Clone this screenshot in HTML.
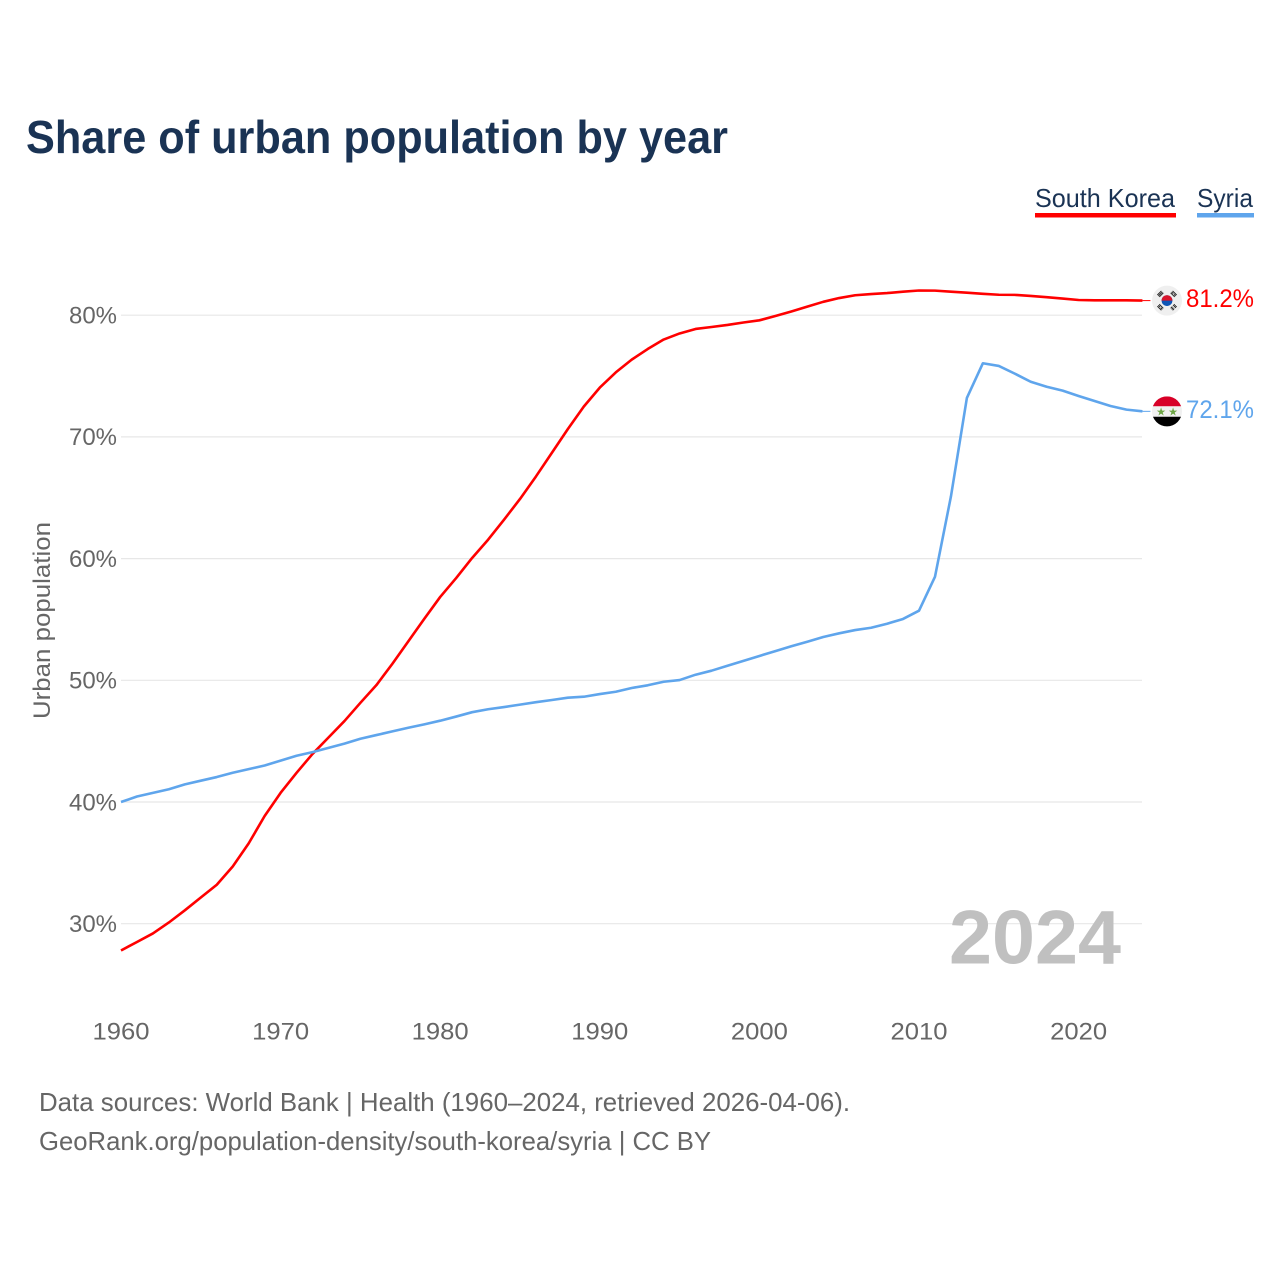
<!DOCTYPE html>
<html lang="en">
<head>
<meta charset="utf-8">
<title>Share of urban population by year</title>
<style>
html,body{margin:0;padding:0;background:#fff;width:1280px;height:1280px;overflow:hidden}
svg{display:block}
text{font-family:"Liberation Sans",sans-serif}
</style>
</head>
<body>
<svg id="chart" xmlns="http://www.w3.org/2000/svg" width="1280" height="1280" viewBox="0 0 1280 1280">
  <defs>
    <clipPath id="flag-clip"><circle cx="0" cy="0" r="15"/></clipPath>
  </defs>
  <rect width="1280" height="1280" fill="#fff"/>
  <text x="26" y="153" font-size="46" font-weight="700" fill="#1a3354" textLength="702" lengthAdjust="spacingAndGlyphs">Share of urban population by year</text>

  <g id="legend">
    <g>
      <text x="1035" y="207" font-size="26" fill="#1a3354" textLength="140" lengthAdjust="spacingAndGlyphs">South Korea</text>
      <rect x="1035" y="213" width="141" height="4.5" fill="#ff0000"/>
    </g>
    <g>
      <text x="1197" y="207" font-size="26" fill="#1a3354" textLength="56" lengthAdjust="spacingAndGlyphs">Syria</text>
      <rect x="1197" y="213" width="57" height="4.5" fill="#5fa5ec"/>
    </g>
  </g>

  <g id="grid"></g>
  <g id="y-axis"></g>
  <g id="x-axis"></g>
  <text transform="translate(50,620.5) rotate(-90)" text-anchor="middle" font-size="24" fill="#666" textLength="197" lengthAdjust="spacingAndGlyphs">Urban population</text>
  <text x="949" y="963.5" font-size="76" font-weight="700" fill="#c0c0c0" textLength="172" lengthAdjust="spacingAndGlyphs">2024</text>

  <g id="series"></g>

  <g id="flag-south-korea">
    <circle r="15" cx="0" cy="0" fill="#efefef"/>
    <g clip-path="url(#flag-clip)">
      <circle r="5.4" fill="#0f55b5"/>
      <path d="M-5.4 0A5.4 5.4 0 0 1 5.4 0Z" fill="#d9142b"/>
      <g fill="#222">
        <g transform="rotate(-45) translate(0,-9.5) scale(.8)"><rect x="-3.6" y="-2.2" width="7.2" height="1.2"/><rect x="-3.6" y="-.5" width="7.2" height="1.2"/><rect x="-3.6" y="1.2" width="7.2" height="1.2"/></g>
        <g transform="rotate(45) translate(0,-9.5) scale(.8)"><rect x="-3.6" y="-2.2" width="7.2" height="1.2"/><rect x="-3.6" y="-.5" width="3" height="1.2"/><rect x=".6" y="-.5" width="3" height="1.2"/><rect x="-3.6" y="1.2" width="7.2" height="1.2"/></g>
        <g transform="rotate(135) translate(0,-9.5) scale(.8)"><rect x="-3.6" y="-2.2" width="3" height="1.2"/><rect x=".6" y="-2.2" width="3" height="1.2"/><rect x="-3.6" y="-.5" width="3" height="1.2"/><rect x=".6" y="-.5" width="3" height="1.2"/><rect x="-3.6" y="1.2" width="3" height="1.2"/><rect x=".6" y="1.2" width="3" height="1.2"/></g>
        <g transform="rotate(-135) translate(0,-9.5) scale(.8)"><rect x="-3.6" y="-2.2" width="7.2" height="1.2"/><rect x="-3.6" y="-.5" width="3" height="1.2"/><rect x=".6" y="-.5" width="3" height="1.2"/><rect x="-3.6" y="1.2" width="7.2" height="1.2"/></g>
      </g>
    </g>
  </g>

  <g id="flag-syria">
    <g clip-path="url(#flag-clip)">
      <rect x="-15" y="-15" width="30" height="10" fill="#d80027"/>
      <rect x="-15" y="-5" width="30" height="10.4" fill="#f0f0f0"/>
      <rect x="-15" y="5.4" width="30" height="10" fill="#000"/>
      <text x="-6" y="4.2" font-size="11" text-anchor="middle" fill="#6da544" style="font-family:'DejaVu Sans',sans-serif">★</text>
      <text x="6" y="4.2" font-size="11" text-anchor="middle" fill="#6da544" style="font-family:'DejaVu Sans',sans-serif">★</text>
    </g>
  </g>

  <g id="end-labels"></g>

  <text x="39" y="1111" font-size="26" fill="#666" textLength="811" lengthAdjust="spacingAndGlyphs">Data sources: World Bank | Health (1960–2024, retrieved 2026-04-06).</text>
  <text x="39" y="1150" font-size="26" fill="#666" textLength="672" lengthAdjust="spacingAndGlyphs">GeoRank.org/population-density/south-korea/syria | CC BY</text>
</svg>
<script>
const firstYear = 1960;
const yTicks = [30, 40, 50, 60, 70, 80];
const xTicks = [1960, 1970, 1980, 1990, 2000, 2010, 2020];
const southKorea = [
  27.8, 28.5, 29.2, 30.1, 31.1, 32.15, 33.2, 34.7, 36.6, 38.85,
  40.75, 42.4, 43.95, 45.3, 46.65, 48.15, 49.6, 51.35, 53.2, 55.05,
  56.85, 58.4, 60.05, 61.55, 63.2, 64.9, 66.75, 68.7, 70.65, 72.5,
  74.05, 75.3, 76.35, 77.22, 78.0, 78.5, 78.87, 79.03, 79.2, 79.4,
  79.58, 79.93, 80.3, 80.7, 81.1, 81.41, 81.64, 81.74, 81.82, 81.93,
  82.03, 82.02, 81.93, 81.85, 81.76, 81.68, 81.67, 81.58, 81.48, 81.37,
  81.25, 81.22, 81.22, 81.22, 81.2
];
const syria = [
  40.0, 40.45, 40.75, 41.05, 41.45, 41.75, 42.05, 42.4, 42.7, 43.0,
  43.4, 43.8, 44.1, 44.45, 44.8, 45.2, 45.5, 45.8, 46.1, 46.38,
  46.68, 47.02, 47.38, 47.62, 47.8, 48.0, 48.2, 48.38, 48.57, 48.65,
  48.87, 49.06, 49.37, 49.59, 49.88, 50.02, 50.46, 50.79, 51.2, 51.6,
  52.0, 52.4, 52.8, 53.17, 53.56, 53.86, 54.13, 54.32, 54.65, 55.04,
  55.72, 58.5, 65.1, 73.2, 76.05, 75.83, 75.2, 74.53, 74.12, 73.8,
  73.36, 72.95, 72.54, 72.24, 72.1
];
const southKoreaLabel = '81.2%';
const syriaLabel = '72.1%';

const NS = 'http://www.w3.org/2000/svg';
function xScale(year) { return 121 + (year - firstYear) * 15.96; }
function yScale(value) { return 802 - (value - 40) * 12.17; }

function make(tag, attrs, parent, text) {
  const el = document.createElementNS(NS, tag);
  for (const k in attrs) el.setAttribute(k, attrs[k]);
  if (text !== undefined) el.textContent = text;
  parent.appendChild(el);
  return el;
}

const gridG = document.getElementById('grid');
const yAxisG = document.getElementById('y-axis');
const xAxisG = document.getElementById('x-axis');
const seriesG = document.getElementById('series');
const labelsG = document.getElementById('end-labels');

yTicks.forEach(function (t) {
  const y = yScale(t);
  const line = make('line', {x1: 121, x2: 1142, y1: y, y2: y, stroke: '#e7e7e7', 'stroke-width': 1.2}, gridG);
  
  
  const label = make('text', {x: 117, y: y + 8.3, 'text-anchor': 'end', 'font-size': 24, fill: '#666', textLength: 48, lengthAdjust: 'spacingAndGlyphs'}, yAxisG, t + '%');
  
  
});

xTicks.forEach(function (t) {
  const label = make('text', {x: xScale(t), y: 1039.5, 'text-anchor': 'middle', 'font-size': 24, fill: '#666', textLength: 57, lengthAdjust: 'spacingAndGlyphs'}, xAxisG, String(t));
  
  
});

function linePath(values) {
  return values.map(function (v, i) {
    return (i ? 'L' : 'M') + xScale(firstYear + i).toFixed(2) + ' ' + yScale(v).toFixed(2);
  }).join(' ');
}

function drawSeries(values, color, key, labelText, flagId) {
  const lastY = yScale(values[values.length - 1]);
  const lastX = xScale(firstYear + values.length - 1);
  const path = make('path', {d: linePath(values), fill: 'none', stroke: color, 'stroke-width': 2.6, 'stroke-linejoin': 'round'}, seriesG);
  
  
  const leader = make('line', {x1: lastX, x2: lastX + 8, y1: lastY, y2: lastY, stroke: color, 'stroke-width': 1}, seriesG);
  
  
  const label = make('text', {x: 1186, y: lastY + 6.5, 'font-size': 25, fill: color, textLength: 68, lengthAdjust: 'spacingAndGlyphs'}, labelsG, labelText);
  
  
  document.getElementById(flagId).setAttribute('transform', 'translate(1167,' + lastY.toFixed(2) + ')');
}

drawSeries(southKorea, '#ff0000', 'south-korea', southKoreaLabel, 'flag-south-korea');
drawSeries(syria, '#5fa5ec', 'syria', syriaLabel, 'flag-syria');
</script>
</body>
</html>
